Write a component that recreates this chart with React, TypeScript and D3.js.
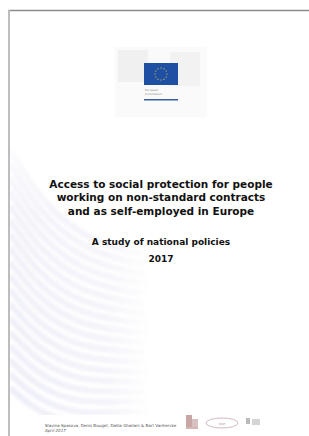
import React from "react";
import * as d3 from "d3";

const W = 309;
const H = 436;

const titleLines = [
  "Access to social protection for people",
  "working on non-standard contracts",
  "and as self-employed in Europe",
];
const subtitle = "A study of national policies";
const year = "2017";
const authors = "Slavina Spasova, Denis Bouget, Dalila Ghailani & Bart Vanhercke";
const dateLine = "April 2017";
const logoLines = ["European", "Commission"];
const waveOffsets = [0, 14, 28, 42, 56, 70, 84, 98, 112, 126, 140, 154, 168, 182, 196, 210, 224, 238];

export default function App() {
  const line = d3.line<[number, number]>().x((d) => d[0]).y((d) => d[1]).curve(d3.curveBasis);
  const waves = waveOffsets.map((o) => {
    const pts: [number, number][] = [
      [10, 150 + o],
      [40, 200 + o * 0.9],
      [80, 235 + o * 0.8],
      [120, 250 + o * 0.72],
      [150, 255 + o * 0.7],
    ];
    return line(pts) || "";
  });
  return (
    <svg
      width={W}
      height={H}
      style={{ position: "absolute", left: 0, top: 0, background: "#fff" }}
      fontFamily="'DejaVu Sans', Verdana, sans-serif"
    >
      <defs>
        <linearGradient id="fade" x1="0" x2="1" y1="0" y2="0">
          <stop offset="0" stopColor="#fff" stopOpacity="0" />
          <stop offset="0.7" stopColor="#fff" stopOpacity="0.3" />
          <stop offset="1" stopColor="#fff" stopOpacity="1" />
        </linearGradient>
        <linearGradient id="fadeV" x1="0" x2="0" y1="0" y2="1">
          <stop offset="0" stopColor="#fff" stopOpacity="1" />
          <stop offset="0.3" stopColor="#fff" stopOpacity="0.2" />
          <stop offset="1" stopColor="#fff" stopOpacity="0" />
        </linearGradient>
        <filter id="blur" x="-0.1" y="-0.1" width="1.2" height="1.2">
          <feGaussianBlur stdDeviation="1.5" />
        </filter>
        <clipPath id="waveClip">
          <rect x={10} y={130} width={140} height={285} />
        </clipPath>
      </defs>
      <g clipPath="url(#waveClip)">
        <g filter="url(#blur)">
          {waves.map((d, i) => (
            <path key={i} d={d} fill="none" stroke="#eeeef8" strokeWidth={6} />
          ))}
        </g>
        <rect x={10} y={130} width={140} height={285} fill="url(#fade)" />
        <rect x={10} y={130} width={140} height={285} fill="url(#fadeV)" />
      </g>
      {/* page border */}
      <line x1={8} x2={W} y1={10.5} y2={10.5} stroke="#8c8c8c" strokeWidth={1.5} />
      <line x1={9} x2={9} y1={10} y2={H} stroke="#bdbdbd" strokeWidth={2} />
      {/* logo */}
      <rect x={115} y={47} width={92} height={70} fill="#fafafa" />
      <rect x={118} y={50} width={30} height={32} fill="#f0f0f0" />
      <rect x={170} y={52} width={30} height={34} fill="#f2f2f2" />
      <rect x={144} y={63} width={34} height={22} fill="#1f4fa3" />
      {d3.range(12).map((i) => {
        const a = (i / 12) * Math.PI * 2;
        return (
          <circle key={i} cx={161 + Math.cos(a) * 6} cy={74 + Math.sin(a) * 6} r={0.6} fill="#e8d84a" />
        );
      })}
      {logoLines.map((t, i) => (
        <text key={t} x={145} y={91 + i * 4} fontSize={2.8} fill="#888">
          {t}
        </text>
      ))}
      <rect x={144} y={99} width={34} height={1.5} fill="#3a5aa0" />
      {/* title */}
      {titleLines.map((t, i) => (
        <text key={t} x={161} y={188 + i * 13.3} textAnchor="middle" fontSize={10.5} fontWeight="bold" fill="#111">
          {t}
        </text>
      ))}
      <text x={161} y={244.5} textAnchor="middle" fontSize={9} fontWeight="bold" fill="#111">
        {subtitle}
      </text>
      <text x={161} y={261.5} textAnchor="middle" fontSize={9} fontWeight="bold" fill="#111">
        {year}
      </text>
      {/* footer */}
      <text x={45} y={427} fontSize={4.05} fill="#555">
        {authors}
      </text>
      <text x={45} y={432} fontSize={4.05} fontStyle="italic" fill="#555">
        {dateLine}
      </text>
      <rect x={186} y={415} width={6} height={12} fill="#c9a6a6" />
      <rect x={192} y={419} width={6} height={8} fill="#d8c0c0" />
      <rect x={186} y={427} width={12} height={2} fill="#d7b6b6" />
      <ellipse cx={222} cy={423} rx={16} ry={5} fill="none" stroke="#c8a7b8" strokeWidth={0.8} />
      <text x={222} y={424.5} textAnchor="middle" fontSize={3.8} fill="#b39aa7">
        ose
      </text>
      <rect x={246} y={418} width={4} height={6} fill="#bbb" />
      <rect x={252} y={419} width={8} height={6} fill="#d5d5d5" />
    </svg>
  );
}
